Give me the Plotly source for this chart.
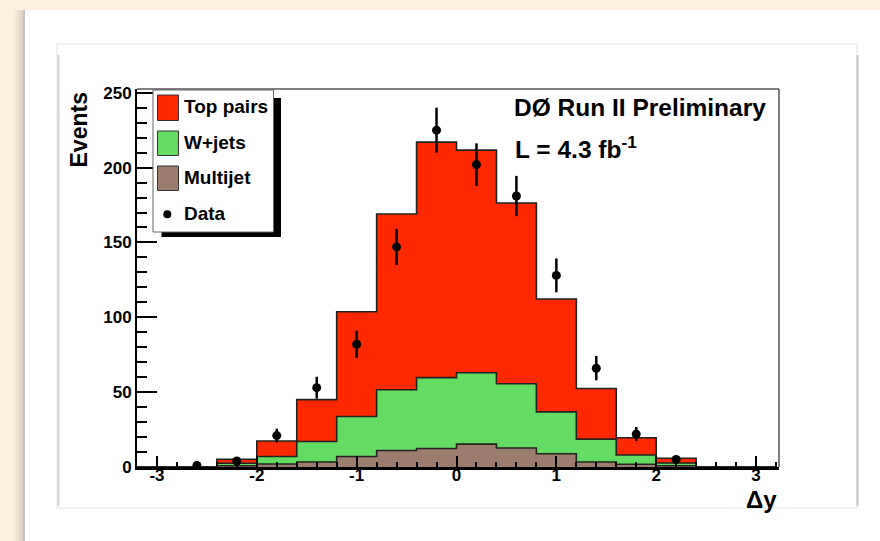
import numpy as np
import plotly.graph_objects as go

# Histogram binning in delta-y (16 bins of width 0.4)
bin_edges = [-3.2, -2.8, -2.4, -2.0, -1.6, -1.2, -0.8, -0.4, 0.0,
             0.4, 0.8, 1.2, 1.6, 2.0, 2.4, 2.8, 3.2]
bin_centers = [-3.0, -2.6, -2.2, -1.8, -1.4, -1.0, -0.6, -0.2,
               0.2, 0.6, 1.0, 1.4, 1.8, 2.2, 2.6, 3.0]

# Expected event counts per process
top_pairs = [0, 0, 2.7, 10.4, 28.0, 70.0, 117.4, 157.3,
             148.7, 120.7, 75.4, 33.8, 11.5, 3.1, 0, 0]
wjets = [0, 0, 1.7, 5.0, 13.7, 26.7, 40.6, 47.3,
         47.7, 42.9, 27.9, 15.3, 6.2, 1.9, 0, 0]
multijet = [0, 0, 0.8, 2.0, 3.3, 7.0, 11.0, 12.4,
            15.3, 12.7, 8.9, 3.3, 1.8, 0.8, 0, 0]

# Observed data
data_x = [-2.6, -2.2, -1.8, -1.4, -1.0, -0.6, -0.2, 0.2, 0.6, 1.0, 1.4, 1.8, 2.2]
data_y = [1, 4, 21, 53, 82, 147, 225, 202, 181, 128, 66, 22, 5]

x_ticks = [-3, -2, -1, 0, 1, 2, 3]
y_ticks = [0, 50, 100, 150, 200, 250]

legend_labels = ["Top pairs", "W+jets", "Multijet", "Data"]

RED = "#FF2800"
GREEN = "#64DC64"
BROWN = "#9C7C6C"
PEACH = "#FEF0DE"
FONT = "Liberation Sans, Arial, sans-serif"

# Page geometry (pixels) and conversion to paper coordinates
W, H = 880, 541
ML, MR, MT, MB = 137, 101, 89, 74
PW, PH = W - ML - MR, H - MT - MB


def px(x):
    return (x - ML) / PW


def py(y):
    return (H - MB - y) / PH


# Stacked totals
mj = np.array(multijet)
wj_stack = mj + np.array(wjets)
all_stack = wj_stack + np.array(top_pairs)

fig = go.Figure()


def step_trace(values, color):
    yy = list(values) + [values[-1]]
    return go.Scatter(
        x=bin_edges, y=yy, mode="lines", line=dict(shape="hv", color="#222222", width=1.6),
        fill="tozeroy", fillcolor=color, showlegend=False, hoverinfo="skip",
    )


fig.add_trace(step_trace(all_stack, RED))
fig.add_trace(step_trace(wj_stack, GREEN))
fig.add_trace(step_trace(mj, BROWN))

fig.add_trace(go.Scatter(
    x=data_x, y=data_y, mode="markers",
    marker=dict(color="black", size=9),
    error_y=dict(type="data", array=np.sqrt(np.array(data_y, dtype=float)),
                 thickness=2.5, width=0, color="black"),
    showlegend=False,
))

shapes = []
# page background: white panel with a soft left shadow
for i, c in enumerate(["#F7E9D8", "#EFE2D2", "#E6DACB", "#DCD1C4"]):
    shapes.append(dict(type="rect", xref="paper", yref="paper", layer="below",
                       x0=px(14 + i * 2.5), x1=px(24), y0=py(H), y1=py(10),
                       fillcolor=c, line=dict(width=0)))
shapes.append(dict(type="rect", xref="paper", yref="paper", layer="below",
                   x0=px(24), x1=px(W + 2), y0=py(H + 2), y1=py(10),
                   fillcolor="white", line=dict(width=0)))
shapes.append(dict(type="line", xref="paper", yref="paper", layer="below",
                   x0=px(24), x1=px(24), y0=py(H), y1=py(10),
                   line=dict(color="#C4C4C4", width=2)))
# inner card
shapes.append(dict(type="rect", xref="paper", yref="paper", layer="below",
                   x0=px(57), x1=px(857), y0=py(508), y1=py(44),
                   fillcolor="white", line=dict(color="#F0F0F0", width=2)))
shapes.append(dict(type="line", xref="paper", yref="paper", layer="below",
                   x0=px(58.5), x1=px(58.5), y0=py(506), y1=py(55),
                   line=dict(color="#CFCFCF", width=2)))
shapes.append(dict(type="line", xref="paper", yref="paper", layer="below",
                   x0=px(857.5), x1=px(857.5), y0=py(506), y1=py(55),
                   line=dict(color="#C4C4C4", width=2)))
# top and right frame of the plot
shapes.append(dict(type="line", xref="paper", yref="paper", layer="above",
                   x0=0, x1=1, y0=1, y1=1, line=dict(color="#555555", width=1.5)))
shapes.append(dict(type="line", xref="paper", yref="paper", layer="above",
                   x0=1, x1=1, y0=0, y1=1, line=dict(color="#555555", width=1.5)))

# legend box with drop shadow
shapes.append(dict(type="rect", xref="paper", yref="paper", layer="above",
                   x0=px(161.5), x1=px(281), y0=py(237), y1=py(98),
                   fillcolor="black", line=dict(width=0)))
shapes.append(dict(type="rect", xref="paper", yref="paper", layer="above",
                   x0=px(153), x1=px(273.5), y0=py(232), y1=py(90),
                   fillcolor="white", line=dict(color="#666666", width=1)))
for (y0, y1), c in zip([(95, 120.5), (131, 155.5), (166, 190.5)], [RED, GREEN, BROWN]):
    shapes.append(dict(type="rect", xref="paper", yref="paper", layer="above",
                       x0=px(157.5), x1=px(178.5), y0=py(y1), y1=py(y0),
                       fillcolor=c, line=dict(color="#333333", width=1)))
shapes.append(dict(type="circle", xref="paper", yref="paper", layer="above",
                   x0=px(163.3), x1=px(171.3), y0=py(218.3), y1=py(210.3),
                   fillcolor="black", line=dict(width=0)))

annotations = []
for label, yc in zip(legend_labels, [106.5, 142.5, 177.5, 213.5]):
    annotations.append(dict(xref="paper", yref="paper", x=px(182), y=py(yc),
                            xanchor="left", yanchor="middle", showarrow=False,
                            text=label, font=dict(family=FONT, size=19, color="black",
                                                  weight="bold")))
annotations.append(dict(xref="paper", yref="paper", x=px(512), y=py(108),
                        xanchor="left", yanchor="middle", showarrow=False,
                        text="DØ Run II Preliminary",
                        font=dict(family=FONT, size=24.5, color="black", weight="bold")))
annotations.append(dict(xref="paper", yref="paper", x=px(513), y=py(147),
                        xanchor="left", yanchor="middle", showarrow=False,
                        text="L = 4.3 fb<sup>-1</sup>",
                        font=dict(family=FONT, size=24.5, color="black", weight="bold")))
annotations.append(dict(xref="paper", yref="paper", x=px(78.5), y=py(130),
                        xanchor="center", yanchor="middle", showarrow=False,
                        textangle=-90, text="Events",
                        font=dict(family=FONT, size=23, color="black", weight="bold")))
annotations.append(dict(xref="paper", yref="paper", x=px(779), y=py(499),
                        xanchor="right", yanchor="middle", showarrow=False,
                        text="Δy",
                        font=dict(family=FONT, size=24, color="black", weight="bold")))

fig.update_layout(
    width=W, height=H,
    margin=dict(l=ML, r=MR, t=MT, b=MB, pad=0),
    paper_bgcolor=PEACH, plot_bgcolor="white",
    shapes=shapes, annotations=annotations,
    showlegend=False,
    xaxis=dict(
        range=[-3.2, 3.23], tickvals=x_ticks, ticktext=[str(v) for v in x_ticks],
        ticks="inside", ticklen=11, tickwidth=2, tickcolor="black",
        ticklabelstandoff=-9,
        minor=dict(dtick=0.2, tick0=0, ticks="inside", ticklen=5, tickwidth=2,
                   tickcolor="black"),
        showline=True, linecolor="black", linewidth=2.5, showgrid=False, zeroline=False,
        tickfont=dict(family=FONT, size=17, color="black", weight="bold"),
    ),
    yaxis=dict(
        range=[0, 252.5], tickvals=y_ticks, ticktext=[str(v) for v in y_ticks],
        ticks="inside", ticklen=20, tickwidth=2, tickcolor="black",
        minor=dict(dtick=10, tick0=0, ticks="inside", ticklen=10, tickwidth=2,
                   tickcolor="black"),
        showline=True, linecolor="black", linewidth=2, showgrid=False, zeroline=False,
        tickfont=dict(family=FONT, size=17, color="black", weight="bold"),
    ),
)

fig.write_html("out.html")
